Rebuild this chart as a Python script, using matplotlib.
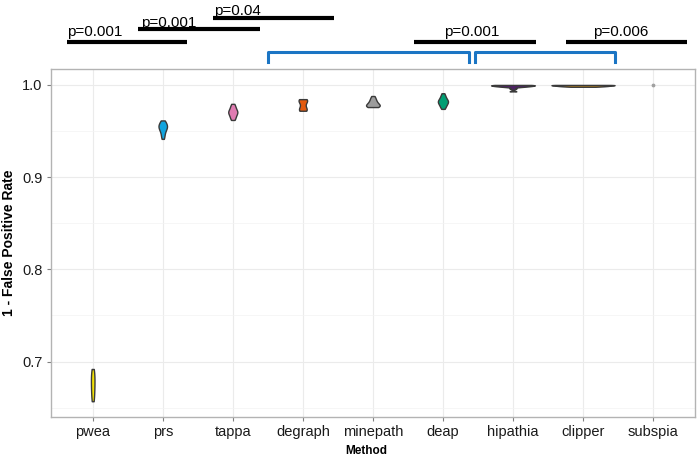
import numpy as np
import matplotlib.pyplot as plt

plt.rcParams['font.family'] = ['Liberation Sans', 'DejaVu Sans']

methods = ['pwea', 'prs', 'tappa', 'degraph', 'minepath', 'deap', 'hipathia', 'clipper', 'subspia']
fill_colors = ['#F2E205', '#12A4DE', '#E07CB2', '#E45A0E', '#9C9C9C', '#009E73', '#4F2166', '#D99414', '#A0A0A0']

# 1 - FPR per run
pwea = [0.657, 0.660, 0.664, 0.668, 0.671, 0.674, 0.677, 0.680, 0.683, 0.686, 0.689, 0.692]
prs = [0.9415, 0.944, 0.946, 0.948, 0.950, 0.951, 0.952, 0.953, 0.954, 0.955, 0.9555,
       0.956, 0.957, 0.958, 0.959, 0.9605, 0.9615]
tappa = [0.962, 0.9635, 0.965, 0.9665, 0.968, 0.969, 0.970, 0.9705, 0.971, 0.972, 0.973,
         0.9745, 0.976, 0.9775, 0.9795]
degraph = [0.972, 0.9725, 0.973, 0.974, 0.976, 0.979, 0.982, 0.983, 0.9835, 0.984, 0.9846]
minepath = [0.976, 0.9763, 0.9767, 0.977, 0.9775, 0.978, 0.9786, 0.9793, 0.980, 0.981,
            0.982, 0.9832, 0.9845, 0.986, 0.988]
deap = [0.974, 0.9755, 0.977, 0.978, 0.979, 0.980, 0.981, 0.9815, 0.982, 0.9825, 0.983,
        0.984, 0.985, 0.986, 0.9875, 0.989, 0.991]
hipathia = [0.993, 0.996, 0.9978, 0.9982, 0.9985, 0.9988, 0.999, 0.9993, 0.9995, 0.9997,
            1.0, 1.0, 1.0]
clipper = [0.998, 0.9983, 0.9986, 0.9988, 0.999, 0.9992, 0.9994, 0.9996, 0.9998, 1.0, 1.0, 1.0]
subspia = [1.0, 1.0, 1.0, 1.0, 1.0, 1.0]

all_vals = [pwea, prs, tappa, degraph, minepath, deap, hipathia, clipper, subspia]

# pairwise comparisons (black bars) and groups (blue brackets)
comp_labels = ['p=0.001', 'p=0.001', 'p=0.04', 'p=0.001', 'p=0.006']


def kde(vals, n=512):
    x = np.asarray(vals, dtype=float)
    sd = x.std(ddof=1)
    if sd == 0:
        return None, None
    iqr = np.subtract(*np.percentile(x, [75, 25]))
    lo = min(sd, iqr / 1.34) or sd
    bw = 0.9 * lo * len(x) ** -0.2
    grid = np.linspace(x.min(), x.max(), n)
    dens = np.exp(-0.5 * ((grid[:, None] - x[None, :]) / bw) ** 2).sum(1)
    dens /= len(x) * bw * np.sqrt(2 * np.pi)
    return grid, dens


fig = plt.figure(figsize=(7, 4.58), dpi=100)
ax = fig.add_axes([0.0724, 0.0895, 0.9206, 0.7609])

profiles = [kde(v) for v in all_vals]
gmax = max(d.max() for g, d in profiles if d is not None)

for i, ((grid, dens), col) in enumerate(zip(profiles, fill_colors), start=1):
    if grid is None:
        ax.scatter([i], [all_vals[i - 1][0]], s=3, color=col, zorder=3)
        continue
    half = dens / gmax * 0.45
    ax.fill_betweenx(grid, i - half, i + half, facecolor=col, edgecolor='#3A3A3A',
                     linewidth=1.0, zorder=3)

ax.set_xlim(0.4, 9.6)
ax.set_ylim(0.6399, 1.0178)
ax.set_xticks(range(1, len(methods) + 1))
ax.set_xticklabels(methods)
ax.set_yticks([0.7, 0.8, 0.9, 1.0])
ax.set_yticklabels(['0.7', '0.8', '0.9', '1.0'])
ax.set_yticks([0.65, 0.75, 0.85, 0.95], minor=True)
ax.grid(True, which='major', color='#EBEBEB', linewidth=0.8, zorder=0)
ax.grid(True, which='minor', axis='y', color='#F3F3F3', linewidth=0.5, zorder=0)
ax.set_axisbelow(True)
for s in ax.spines.values():
    s.set_color('#B3B3B3')
    s.set_linewidth(1.0)
ax.tick_params(which='major', length=3, width=0.8, color='#808080', labelsize=10.5,
               labelcolor='#1A1A1A', pad=3)
ax.tick_params(which='minor', length=0)
ax.set_xlabel('Method', fontsize=8.5, fontweight='bold')
ax.xaxis.set_label_coords(0.49, -0.08)
ax.set_ylabel('1 - False Positive Rate', fontsize=10, fontweight='bold')
ax.yaxis.set_label_coords(-0.054, 0.5)

# significance bars above the panel
bar_x0 = [0.64, 1.65, 2.72, 5.59, 7.75]
bar_x1 = [2.35, 3.39, 4.45, 7.33, 9.49]
bar_y = [1.0468, 1.0602, 1.0721, 1.0468, 1.0468]
txt_x = [0.63, 1.69, 2.73, 6.41, 8.54]
txt_y = [1.0529, 1.0632, 1.0756, 1.0529, 1.0529]
txt_ha = ['left', 'left', 'left', 'center', 'center']
for x0, x1, yb, tx, ty, ha, lab in zip(bar_x0, bar_x1, bar_y, txt_x, txt_y, txt_ha, comp_labels):
    ax.plot([x0, x1], [yb, yb], color='black', linewidth=3, solid_capstyle='butt', clip_on=False)
    ax.text(tx, ty, lab, ha=ha, va='baseline', fontsize=11, color='black', clip_on=False)

# blue group brackets
br_x0 = [3.50, 6.46]
br_x1 = [6.37, 8.45]
for x0, x1 in zip(br_x0, br_x1):
    ax.plot([x0, x0, x1, x1], [1.0245, 1.0360, 1.0360, 1.0245], color='#1B75C4',
            linewidth=2.2, clip_on=False)

fig.savefig('out.png', dpi=100)
